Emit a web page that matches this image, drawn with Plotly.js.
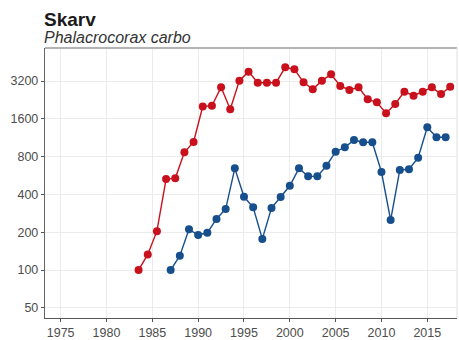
<!DOCTYPE html>
<html>
<head>
<meta charset="utf-8">
<script src="https://cdn.plot.ly/plotly-3.0.1.min.js"></script>
<style>
  html, body { margin: 0; padding: 0; background: #fff; }
  #chart { width: 459px; height: 340px; }
</style>
</head>
<body>
<div id="chart"></div>
<script>
// Breeding-pair counts, two colonies, log scale
const redYears = [1983.5, 1984.5, 1985.5, 1986.5, 1987.5, 1988.5, 1989.5, 1990.5, 1991.5,
  1992.5, 1993.5, 1994.5, 1995.5, 1996.5, 1997.5, 1998.5, 1999.5, 2000.5, 2001.5, 2002.5,
  2003.5, 2004.5, 2005.5, 2006.5, 2007.5, 2008.5, 2009.5, 2010.5, 2011.5, 2012.5, 2013.5,
  2014.5, 2015.5, 2016.5, 2017.5];
const redCounts = [100, 133, 204, 530, 537, 866, 1046, 2005, 2035,
  2850, 1908, 3220, 3800, 3100, 3100, 3100, 4115, 3966, 3125, 2747,
  3220, 3617, 2920, 2713, 2850, 2288, 2166, 1770, 2100, 2630, 2444,
  2630, 2850, 2521, 2882];

const blueYears = [1987, 1988, 1989, 1990, 1991, 1992, 1993, 1994, 1995, 1996, 1997,
  1998, 1999, 2000, 2001, 2002, 2003, 2004, 2005, 2006, 2007, 2008, 2009, 2010,
  2011, 2012, 2013, 2014, 2015, 2016, 2017];
const blueCounts = [100, 130, 211, 190, 198, 255, 306, 645, 383, 316, 177,
  312, 381, 469, 645, 557, 557, 677, 875, 949, 1085, 1040, 1040, 603,
  250, 626, 634, 784, 1369, 1140, 1140];

const yTicks = [50, 100, 200, 400, 800, 1600, 3200];
const xTicks = [1975, 1980, 1985, 1990, 1995, 2000, 2005, 2010, 2015];

const titleText = "Skarv";
const subtitleText = "Phalacrocorax carbo";

const RED = "#c8111c";
const BLUE = "#174f8d";
const FONT = "Liberation Sans, Arial, sans-serif";

function series(x, y, color) {
  return {
    x: x, y: y, type: "scatter", mode: "lines+markers",
    line: { color: color, width: 1.4 },
    marker: { color: color, size: 8 },
    hoverinfo: "x+y", showlegend: false
  };
}

const traces = [
  series(redYears, redCounts, RED),
  series(blueYears, blueCounts, BLUE)
];

const layout = {
  width: 459, height: 340,
  margin: { l: 45, r: 2, t: 48, b: 22, pad: 0 },
  paper_bgcolor: "#fff", plot_bgcolor: "#fff",
  font: { family: FONT, color: "#4d4d4d", size: 12.5 },
  showlegend: false,
  xaxis: {
    range: [1973.29, 2018.24],
    tickvals: xTicks,
    ticktext: xTicks.map(String),
    showgrid: true, gridcolor: "#ebebeb", gridwidth: 1,
    zeroline: false,
    showline: true, linecolor: "#555", linewidth: 1,
    ticks: "outside", ticklen: 3, tickcolor: "#555",
    tickfont: { family: FONT, size: 12.5, color: "#4d4d4d" }
  },
  yaxis: {
    type: "log",
    range: [Math.log10(41.5), Math.log10(5860)],
    tickvals: yTicks,
    ticktext: yTicks.map(String),
    showgrid: true, gridcolor: "#ebebeb", gridwidth: 1,
    zeroline: false,
    showline: true, linecolor: "#666", linewidth: 1.2,
    ticks: "outside", ticklen: 3, tickcolor: "#555",
    tickfont: { family: FONT, size: 12.5, color: "#4d4d4d" }
  },
  shapes: [
    { type: "line", xref: "paper", yref: "paper", x0: 0, x1: 1, y0: 1, y1: 1,
      line: { color: "#b3b3b3", width: 2 } },
    { type: "line", xref: "paper", yref: "paper", x0: 1, x1: 1, y0: 0, y1: 1,
      line: { color: "#e0e0e0", width: 1 } }
  ],
  annotations: [
    { text: "<b>" + titleText + "</b>", xref: "paper", yref: "paper",
      x: -0.004, y: 1.106, xanchor: "left", yanchor: "middle", showarrow: false,
      borderpad: 0,
      font: { family: FONT, size: 19, color: "#1a1a1a" } },
    { text: "<i>" + subtitleText + "</i>", xref: "paper", yref: "paper",
      x: -0.004, y: 1.038, xanchor: "left", yanchor: "middle", showarrow: false,
      borderpad: 0,
      font: { family: FONT, size: 16, color: "#333" } }
  ]
};

Plotly.newPlot("chart", traces, layout, { staticPlot: true, displayModeBar: false });
</script>
</body>
</html>
